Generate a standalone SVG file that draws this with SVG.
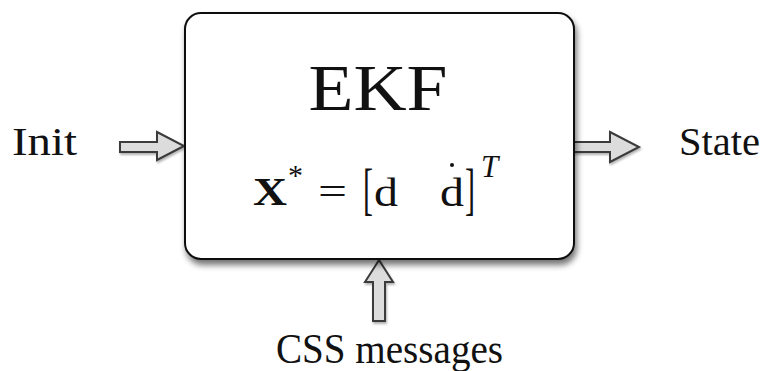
<svg xmlns="http://www.w3.org/2000/svg" width="763" height="371" viewBox="0 0 763 371">
<style>
.t{font-family:"Liberation Serif","Times New Roman",serif;fill:#111}
.arr{fill:#dcdcdc;stroke:#3a3a3a;stroke-width:2;stroke-linejoin:miter}
</style>
<defs>
<filter id="sh" x="-10%" y="-10%" width="125%" height="130%">
<feGaussianBlur in="SourceAlpha" stdDeviation="3"/>
<feOffset dx="2" dy="5" result="b"/>
<feComponentTransfer><feFuncA type="linear" slope="0.55"/></feComponentTransfer>
<feMerge><feMergeNode/><feMergeNode in="SourceGraphic"/></feMerge>
</filter>
<filter id="sh2" x="-20%" y="-20%" width="150%" height="150%">
<feGaussianBlur in="SourceAlpha" stdDeviation="1"/>
<feOffset dx="1" dy="2"/>
<feComponentTransfer><feFuncA type="linear" slope="0.3"/></feComponentTransfer>
<feMerge><feMergeNode/><feMergeNode in="SourceGraphic"/></feMerge>
</filter>
</defs>
<rect width="763" height="371" fill="#fff"/>
<g id="connectors">
<path class="arr" filter="url(#sh2)" d="M120,142 H157 V132 L184,146 L157,160 V152 H120 Z"/>
<path class="arr" filter="url(#sh2)" d="M574,142 H610 V132 L639,147 L610,162 V152 H574 Z"/>
<path class="arr" filter="url(#sh2)" d="M373,321 V282 H365 L379,260 L393,282 H385 V321 Z"/>
</g>
<g id="ekf">
<rect x="185" y="13" width="389" height="246" rx="16" ry="16" fill="#fff" stroke="#111" stroke-width="2" filter="url(#sh)"/>
<text class="t" x="378" y="110" font-size="66" text-anchor="middle" textLength="139" lengthAdjust="spacingAndGlyphs">EKF</text>
<text class="t" x="253" y="205" font-size="41" font-weight="bold" textLength="34" lengthAdjust="spacingAndGlyphs">X</text>
<text class="t" x="288" y="185" font-size="30">*</text>
<text class="t" x="318" y="205" font-size="40" textLength="29" lengthAdjust="spacingAndGlyphs">=</text>
<text class="t" transform="translate(363,208) scale(1,1.87)" font-size="30">[</text>
<text class="t" x="374" y="206" font-size="39" textLength="24" lengthAdjust="spacingAndGlyphs">d</text>
<text class="t" x="440" y="206" font-size="39" textLength="24" lengthAdjust="spacingAndGlyphs">d</text>
<circle cx="452" cy="165" r="2" fill="#111"/>
<text class="t" transform="translate(465,208) scale(1,1.87)" font-size="30">]</text>
<text class="t" x="481" y="177" font-size="31" font-style="italic">T</text>
</g>
<g id="init">
<text class="t" x="12" y="155" font-size="41" textLength="65" lengthAdjust="spacingAndGlyphs">Init</text>
</g>
<g id="state">
<text class="t" x="679" y="155" font-size="41" textLength="81" lengthAdjust="spacingAndGlyphs">State</text>
</g>
<g id="css">
<text class="t" x="276" y="363" font-size="42" textLength="227" lengthAdjust="spacingAndGlyphs">CSS messages</text>
</g>
</svg>
